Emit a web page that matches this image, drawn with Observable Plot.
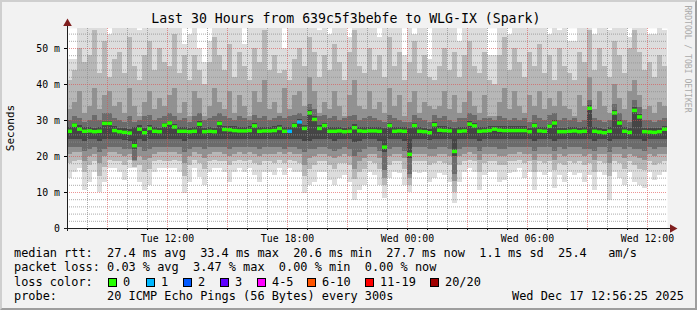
<!DOCTYPE html>
<html><head><meta charset="utf-8">
<script src="https://cdn.jsdelivr.net/npm/d3@7"></script>
<script src="https://cdn.jsdelivr.net/npm/@observablehq/plot@0.6"></script>
<style>
html,body{margin:0;padding:0;background:#fff;}
#chart{position:relative;width:697px;height:310px;background:#f2f2f2;overflow:hidden;font-family:"DejaVu Sans Mono",monospace;color:#000;}
#chart svg{position:absolute;left:0;top:0;}
#frame{position:absolute;left:0;top:0;width:697px;height:310px;box-sizing:border-box;border-top:2px solid #cfcfcf;border-left:2px solid #cfcfcf;border-right:2px solid #9e9e9e;border-bottom:2px solid #9e9e9e;pointer-events:none;}
.t{position:absolute;white-space:pre;}
.box{position:absolute;width:7px;height:7px;border:1px solid #000;}
</style></head>
<body><div id="chart"></div>
<script>
// ---------- data ----------
const startISO = "2025-12-16T07:00:00Z";
const endISO = "2025-12-17T13:00:00Z";
const stepMinutes = 15;

const medianRtt = [
27.0,28.7,27.6,27.0,27.1,26.9,27.0,29.2,29.2,27.2,
26.9,26.7,26.5,23.0,27.6,26.6,27.8,27.0,26.9,28.7,
29.3,28.2,27.0,27.0,26.9,27.0,29.0,26.9,27.0,26.9,
29.2,27.5,27.4,27.2,27.1,27.1,27.2,28.5,27.0,27.1,
27.1,27.2,27.8,27.0,27.0,28.6,29.6,27.8,32.1,30.3,
27.8,28.6,27.0,27.0,27.1,26.9,27.0,28.0,27.1,27.0,
27.1,27.1,27.0,22.6,28.6,27.0,27.1,27.0,20.6,28.6,
27.0,26.9,26.6,28.8,27.3,27.2,27.1,21.4,27.0,27.1,
29.0,28.5,27.0,27.1,27.2,27.6,27.3,27.2,27.2,27.2,
27.2,27.2,26.9,28.6,27.1,27.0,28.4,29.3,26.9,26.9,
27.0,27.1,26.9,27.0,33.4,27.0,26.8,26.6,27.0,32.1,
29.3,27.0,26.7,32.8,31.0,26.9,26.8,26.7,26.9,27.6];

const lossCount = [
0,0,0,0,0,0,0,0,0,0, 0,0,0,0,0,0,0,0,0,0, 0,0,0,0,0,0,0,0,0,0, 0,0,0,0,0,0,0,0,0,0,
0,0,0,0,1,0,1,0,0,0, 0,0,0,0,0,0,0,0,0,0, 0,0,0,0,0,0,0,0,0,0, 0,0,0,0,0,0,0,0,0,0,
0,0,0,0,0,0,0,0,0,0, 0,0,0,0,0,0,0,0,0,0, 0,0,0,0,0,0,0,0,0,0, 0,0,0,0,0,0,0,0,0,0];

// smoke: outer (ping 1/20) to inner (ping 9/12) bands
const smoke1Hi = [
47,47,60,60,60,60,60,60,54,60, 60,60,60,60,55,60,60,58,60,60,
60,60,60,51,54,60,50,46,52,60, 60,60,60,60,60,51,60,60,60,60,
60,60,60,50,60,60,60,60,60,60, 55,60,54,60,60,60,53,60,60,60,
60,60,53,60,60,60,60,48,60,54, 60,60,47,60,60,60,60,60,52,60,
60,60,60,60,48,48,60,60,54,60, 60,60,60,60,60,60,54,60,55,60,
52,52,60,60,60,54,60,60,55,60, 60,60,53,60,60,60,54,54,60,55];
const smoke1Lo = [
13.8,15.6,16.6,10.6,12.9,15.6,10.1,12.9,16.6,16.6, 15.6,13.3,16.6,16.6,12.9,10.6,11.9,15.6,16.6,16.6,
16.6,16.6,15.6,9.6,12.9,16.6,14.2,11.9,15.6,16.6, 16.6,15.6,12.9,15.6,16.6,15.6,16.6,14.7,12.9,15.6,
15.6,14.7,16.6,14.7,16.6,15.6,15.6,9.6,11.9,12.9, 15.6,15.6,13.3,11.9,13.8,14.7,12.9,7.8,10.6,11.9,
15.6,14.7,11.9,8.2,13.8,15.6,15.2,11.9,10.1,15.6, 15.2,15.6,12.9,13.8,15.2,14.7,12.9,7.0,12.9,15.6,
16.6,15.6,10.6,14.7,15.6,15.6,12.9,13.3,15.2,15.6, 16.6,13.8,15.6,10.6,15.6,14.7,15.6,11.0,14.7,12.9,
15.6,14.7,15.2,12.9,14.7,10.6,15.6,14.7,7.8,15.6, 13.8,11.9,15.6,12.9,11.9,11.0,15.6,13.3,14.7,15.6];
const smoke2Hi = [
41,44,50,46,48,55,43,52,42,47, 49,43,53,45,41,48,52,44,50,46,
45,54,43,48,41,48,44,40,46,53, 48,44,51,42,49,45,41,50,46,55,
44,48,43,44,41,47,50,45,53,49, 42,48,44,51,46,41,49,55,45,43,
50,44,48,42,53,45,49,41,46,52, 43,48,42,41,45,50,44,49,42,48,
52,45,43,49,41,40,48,53,44,50, 46,42,49,45,51,43,48,41,50,45,
43,41,49,46,55,44,50,45,42,52, 48,43,50,55,49,44,46,42,48,45];
const smoke2Lo = [
18,18.5,19,15.5,17.5,18.5,14.5,17,19,18.5, 18.5,17.5,19,17,17.5,15.5,16.5,18.5,19,18.5,
18.5,19,18.5,14.5,17.5,19,18,16.5,18.5,19, 18.5,18.5,17.5,18.5,19,18.5,19,18,17.5,18.5,
18.5,18,19,18,19,18.5,18,14.5,16.5,17.5, 18.5,18.5,17.5,16.5,18,18,17.5,13.5,15.5,16.5,
18.5,18,16.5,12,17.5,18.5,18.5,16.5,12,18.5, 18.5,18.5,17.5,18,18.5,18,17.5,10,17.5,18.5,
19,18.5,15.5,18,18.5,18.5,17.5,17.5,18.5,18.5, 19,18,18.5,15.5,18.5,18,18.5,16,18,17.5,
18.5,18,18.5,17.5,18,15.5,18.5,18,14.5,18.5, 18,16.5,18.5,17.5,16.5,16,18.5,17.5,18,18.5];
const smoke3Hi = [
33,35,38,32,34,39,33,37,38,34, 35,32,39,34,31,35,38,33,36,34,
37,39,32,35,31,38,36,31,34,39, 35,33,38,32,37,34,31,38,35,41,
33,35,32,39,33,37,38,34,42,38, 32,35,33,38,34,31,37,41,34,33,
38,33,35,32,39,34,37,31,35,38, 32,35,34,33,34,38,33,37,32,35,
38,34,32,37,31,31,35,39,33,38, 34,32,37,34,38,33,36,34,38,34,
33,31,37,34,42,33,38,34,32,40, 36,33,38,41,37,33,34,32,35,34];
const smoke3Lo = [
20.5,21,21,18.5,20,20.5,18,20,21,21, 20.5,20,20.5,18.5,20,19,19.5,20.5,21,21,
21,21,20.5,18,20,21,20.5,19.5,20.5,21, 21,20.5,20,20.5,21,20.5,21,20.5,20,20.5,
20.5,20.5,21,20.5,21,20.5,20.5,17.5,19.5,20, 20.5,20.5,20,19.5,20,20.5,20,16.5,18.5,19.5,
20.5,20.5,19.5,14,20,20.5,20.5,19.5,14,20.5, 20.5,20.5,20,20,20.5,20.5,20,13,20,20.5,
21,20.5,19,20.5,20.5,20.5,20,20,20.5,20.5, 21,20.5,20.5,19,20.5,20.5,20.5,19,20.5,20,
20.5,20.5,20.5,20,20.5,19,20.5,20.5,18,20.5, 20.5,19.5,20.5,20,19.5,19,20.5,20,20.5,20.5];
const smoke4Hi = [
30,31,30.5,29.5,30,31.5,30,32,32,30.5, 30,29.5,31,29.5,30,31,31.5,30,30.5,31,
32,31,30,30.5,29.5,31,32,30,30.5,31, 32,31,30.5,30,31,30.5,30,31.5,30.5,31,
30,30.5,31,30.5,31,31.5,32,31,34.5,33, 31,31.5,30.5,31,30,30.5,31,31.5,30,30.5,
31,30.5,30,29.5,31.5,30.5,30,29.5,29.5,31.5, 30.5,30,29.5,31.5,30.5,31,30,29.5,30.5,30.5,
32,31.5,30,30.5,30.5,30,31,30.5,30,30.5, 30,30.5,29.5,31.5,30.5,30,31.5,32,30,30.5,
30,30.5,29.5,30,35.5,30.5,30,29.5,30,34.5, 32,30,29.5,35.5,33.5,30,30,29.5,30,30.5];
const smoke4Lo = [
22.5,22.5,22.5,21.5,22,22.5,21,22,22.5,22.5, 22.5,22,22,19,22.5,21.5,22,22.5,22.5,22.5,
22.5,22.5,22.5,21,22,22.5,22.5,22,22.5,22.5, 22.5,22.5,22,22.5,22.5,22.5,22.5,22.5,22,22.5,
22.5,22.5,22.5,22,22.5,22.5,22,21,22,22, 22.5,22.5,22,21.5,22,22.5,22,20,21,22,
22.5,22.5,21.5,16,22,22.5,22.5,21.5,15,22.5, 22.5,22.5,22,22,22.5,22.5,22,15,22,22.5,
22.5,22.5,21.5,22.5,22.5,22.5,22,22,22.5,22.5, 22.5,22.5,22.5,21.5,22.5,22.5,22.5,21.5,22.5,22,
22.5,22.5,22.5,22,22,21.5,22.5,22.5,21,22.5, 22.5,22,22.5,22,22,21.5,22.5,22,22.5,22.5];
const smoke5Hi = [
28,29.3,28.5,28,28.1,27.9,28,29.8,29.8,28.2, 27.9,27.8,27.6,28,28.5,27.7,28.6,28,27.9,29.3,
29.8,28.9,28,28,27.9,28,29.6,27.9,28,27.9, 29.8,28.4,28.4,28.2,28.1,28.1,28.2,29.1,28,28.1,
28.1,28.2,28.6,28,28,29.2,30.2,28.6,32.8,31, 28.6,29.2,28,28,28.1,27.9,28,28.8,28.1,28,
28.1,28.1,28,27.8,29.2,28,28.1,28,27.9,29.2, 28,27.9,27.6,29.4,28.3,28.2,28.1,27.9,28,28.1,
29.6,29.1,28,28.1,28.2,28.4,28.3,28.2,28.2,28.2, 28.2,28.2,27.9,29.2,28.1,28,29,29.9,27.9,27.9,
28,28.1,27.9,28,34.2,28,27.8,27.6,28,32.8, 29.9,28,27.7,33.6,31.8,27.9,27.8,27.7,27.9,28.4];
const smoke5Lo = [
24.8,24.8,24.8,24.3,24.6,24.8,24.3,24.6,24.8,24.8, 24.8,24.5,24.3,22,24.8,24.3,24.6,24.8,24.8,24.8,
24.8,24.8,24.8,24.3,24.6,24.8,24.8,24.6,24.8,24.8, 24.8,24.8,24.6,24.8,24.8,24.8,24.8,24.8,24.6,24.8,
24.8,24.8,24.8,24.6,24.8,24.8,24.6,24.3,24.3,24.6, 24.8,24.8,24.6,24.3,24.6,24.8,24.6,23.8,24.3,24.6,
24.8,24.8,24.3,21,24.6,24.8,24.8,24.3,19.5,24.8, 24.8,24.8,24.5,24.6,24.8,24.8,24.6,20,24.6,24.8,
24.8,24.8,24.3,24.8,24.8,24.8,24.6,24.6,24.8,24.8, 24.8,24.8,24.8,24.3,24.8,24.8,24.8,24.3,24.8,24.6,
24.8,24.8,24.8,24.6,24.6,24.3,24.8,24.8,24.3,24.8, 24.8,24.6,24.8,24.6,24.6,24.3,24.8,24.6,24.8,24.8];

const smokeShades = ["#dddddd", "#b7b7b7", "#919191", "#6b6b6b", "#454545"];
const lossLabels = ["0", "1", "2", "3", "4-5", "6-10", "11-19", "20/20"];
const lossColors = ["#26ff00", "#00b8ff", "#0059ff", "#5e00ff", "#ff00ff", "#ff5500", "#ff0000", "#a00000"];
const yTicks = [0, 10, 20, 30, 40, 50];
const yTickLabels = ["0", "10 m", "20 m", "30 m", "40 m", "50 m"];
const xTickTimes = ["2025-12-16T12:00:00Z", "2025-12-16T18:00:00Z", "2025-12-17T00:00:00Z", "2025-12-17T06:00:00Z", "2025-12-17T12:00:00Z"];
const xTickLabels = ["Tue 12:00", "Tue 18:00", "Wed 00:00", "Wed 06:00", "Wed 12:00"];

const titleText = "Last 30 Hours from 639c5f3bebfe to WLG-IX (Spark)";
const legendLine1 = "median rtt:  27.4 ms avg  33.4 ms max  20.6 ms min  27.7 ms now  1.1 ms sd  25.4   am/s";
const legendLine2 = "packet loss: 0.03 % avg  3.47 % max  0.00 % min  0.00 % now";
const legendLine3 = "loss color:";
const legendLine4 = "probe:       20 ICMP Echo Pings (56 Bytes) every 300s";
const dateText = "Wed Dec 17 12:56:25 2025";
const yLabel = "Seconds";
const watermark = "RRDTOOL / TOBI OETIKER";

// ---------- build ----------
const tStart = new Date(startISO), tEnd = new Date(endISO);
const stepMs = stepMinutes * 60000;
const yMax = 200 / 3.6;
const smokeBands = [[smoke1Lo, smoke1Hi], [smoke2Lo, smoke2Hi], [smoke3Lo, smoke3Hi], [smoke4Lo, smoke4Hi], [smoke5Lo, smoke5Hi]];
const smokeRows = [];
smokeBands.forEach(([lo, hi], k) => {
  lo.forEach((v, i) => {
    smokeRows.push({t0: new Date(+tStart + i * stepMs), t1: new Date(+tStart + (i + 1) * stepMs), lo: v, hi: hi[i], fill: smokeShades[k]});
  });
});
const medRows = medianRtt.map((m, i) => ({t0: new Date(+tStart + i * stepMs), t1: new Date(+tStart + (i + 1) * stepMs), med: m, c: lossColors[lossCount[i]]}));

const hours = d3.utcHour.range(new Date(+tStart + 3600000), tEnd);
const majorHours = hours.filter(d => d.getUTCHours() % 3 === 0);
const minorHours = hours.filter(d => d.getUTCHours() % 3 !== 0);
const gridVals = d3.range(2, yMax, 2);
const majorY = gridVals.filter(v => v % 10 === 0);
const minorY = gridVals.filter(v => v % 10 !== 0);
const xLabelMap = new Map(xTickTimes.map((s, i) => [+new Date(s), xTickLabels[i]]));
const yLabelMap = new Map(yTicks.map((v, i) => [v, yTickLabels[i]]));
const minGrid = "rgba(143,143,143,0.75)", majGrid = "rgba(222,79,79,0.6)";
const pxMs = 180000; // one pixel of time

const svg = Plot.plot({
  width: 697, height: 310,
  marginLeft: 67, marginRight: 30, marginTop: 28, marginBottom: 82,
  x: {type: "utc", domain: [tStart, tEnd]},
  y: {domain: [0, yMax]},
  style: {background: "transparent", fontFamily: "DejaVu Sans Mono", fontSize: "9.85px", color: "#000"},
  marks: [
    Plot.frame({fill: "white", stroke: "none"}),
    Plot.rect(smokeRows, {x1: "t0", x2: "t1", y1: "lo", y2: "hi", fill: "fill", clip: true, shapeRendering: "crispEdges"}),
    Plot.ruleY(medRows, {y: "med", x1: "t0", x2: "t1", stroke: "c", strokeWidth: 3.5, clip: true}),
    Plot.ruleX(minorHours, {stroke: minGrid, strokeDasharray: "1,1"}),
    Plot.ruleY(minorY, {stroke: minGrid, strokeDasharray: "1,1"}),
    Plot.ruleX(majorHours, {stroke: majGrid, strokeDasharray: "1,1"}),
    Plot.ruleY(majorY, {stroke: majGrid, strokeDasharray: "1,1"}),
    Plot.axisY({ticks: yTicks, tickFormat: d => yLabelMap.get(d), tickSize: 3, tickPadding: 4.5, label: null}),
    Plot.axisX({ticks: hours, tickFormat: () => "", tickSize: 2, label: null}),
    Plot.axisX({ticks: xTickTimes.map(s => new Date(s)), tickFormat: d => xLabelMap.get(+d), tickSize: 0, tickPadding: 6.5, label: null}),
    Plot.ruleY([{y: 0, a: new Date(+tStart - 3 * pxMs), b: new Date(+tEnd + 3 * pxMs)}], {y: "y", x1: "a", x2: "b", stroke: "#1f1f1f"}),
    Plot.ruleX([{x: tStart, a: -3 / 3.6, b: yMax + 4 / 3.6}], {x: "x", y1: "a", y2: "b", stroke: "#1f1f1f"}),
    Plot.dot([{x: new Date(+tEnd + 5 * pxMs), y: 0}], {x: "x", y: "y", symbol: "triangle", r: 3.2, fill: "#801f1f", stroke: "none", rotate: 90}),
    Plot.dot([{x: tStart, y: yMax + 5 / 3.6}], {x: "x", y: "y", symbol: "triangle", r: 3.2, fill: "#801f1f", stroke: "none"})
  ]
});

const chart = document.getElementById("chart");
chart.appendChild(svg);

function addText(txt, css) {
  const d = document.createElement("div");
  d.className = "t";
  d.textContent = txt;
  Object.assign(d.style, css);
  chart.appendChild(d);
  return d;
}
addText(titleText, {left: "151.3px", top: "10.7px", fontSize: "13.2px", lineHeight: "16px"});
addText(yLabel, {left: "-39px", top: "121px", width: "100px", height: "14px", lineHeight: "14px", textAlign: "center", fontSize: "11px", transform: "rotate(-90deg)"});
addText(watermark, {left: "628.3px", top: "53px", width: "120px", height: "12px", lineHeight: "12px", textAlign: "center", fontSize: "8.1px", color: "#aaaaaa", transform: "rotate(90deg)"});
const legFont = {fontSize: "11.9px", lineHeight: "14px"};
addText(legendLine1, {...legFont, left: "14px", top: "246.2px"});
addText(legendLine2, {...legFont, left: "14px", top: "260.4px"});
addText(legendLine3, {...legFont, left: "14px", top: "274.7px"});
addText(legendLine4, {...legFont, left: "14px", top: "288.9px"});
addText(dateText, {...legFont, left: "512px", top: "288.9px"});
const boxLeft = [108, 146, 183, 220, 257, 307, 365, 430];
lossLabels.forEach((lab, i) => {
  const b = document.createElement("div");
  b.className = "box";
  b.style.left = boxLeft[i] + "px";
  b.style.top = "277.5px";
  b.style.background = lossColors[i];
  chart.appendChild(b);
  addText(lab, {...legFont, left: (boxLeft[i] + 15) + "px", top: "274.7px"});
});
const fr = document.createElement("div");
fr.id = "frame";
chart.appendChild(fr);
</script></body></html>
